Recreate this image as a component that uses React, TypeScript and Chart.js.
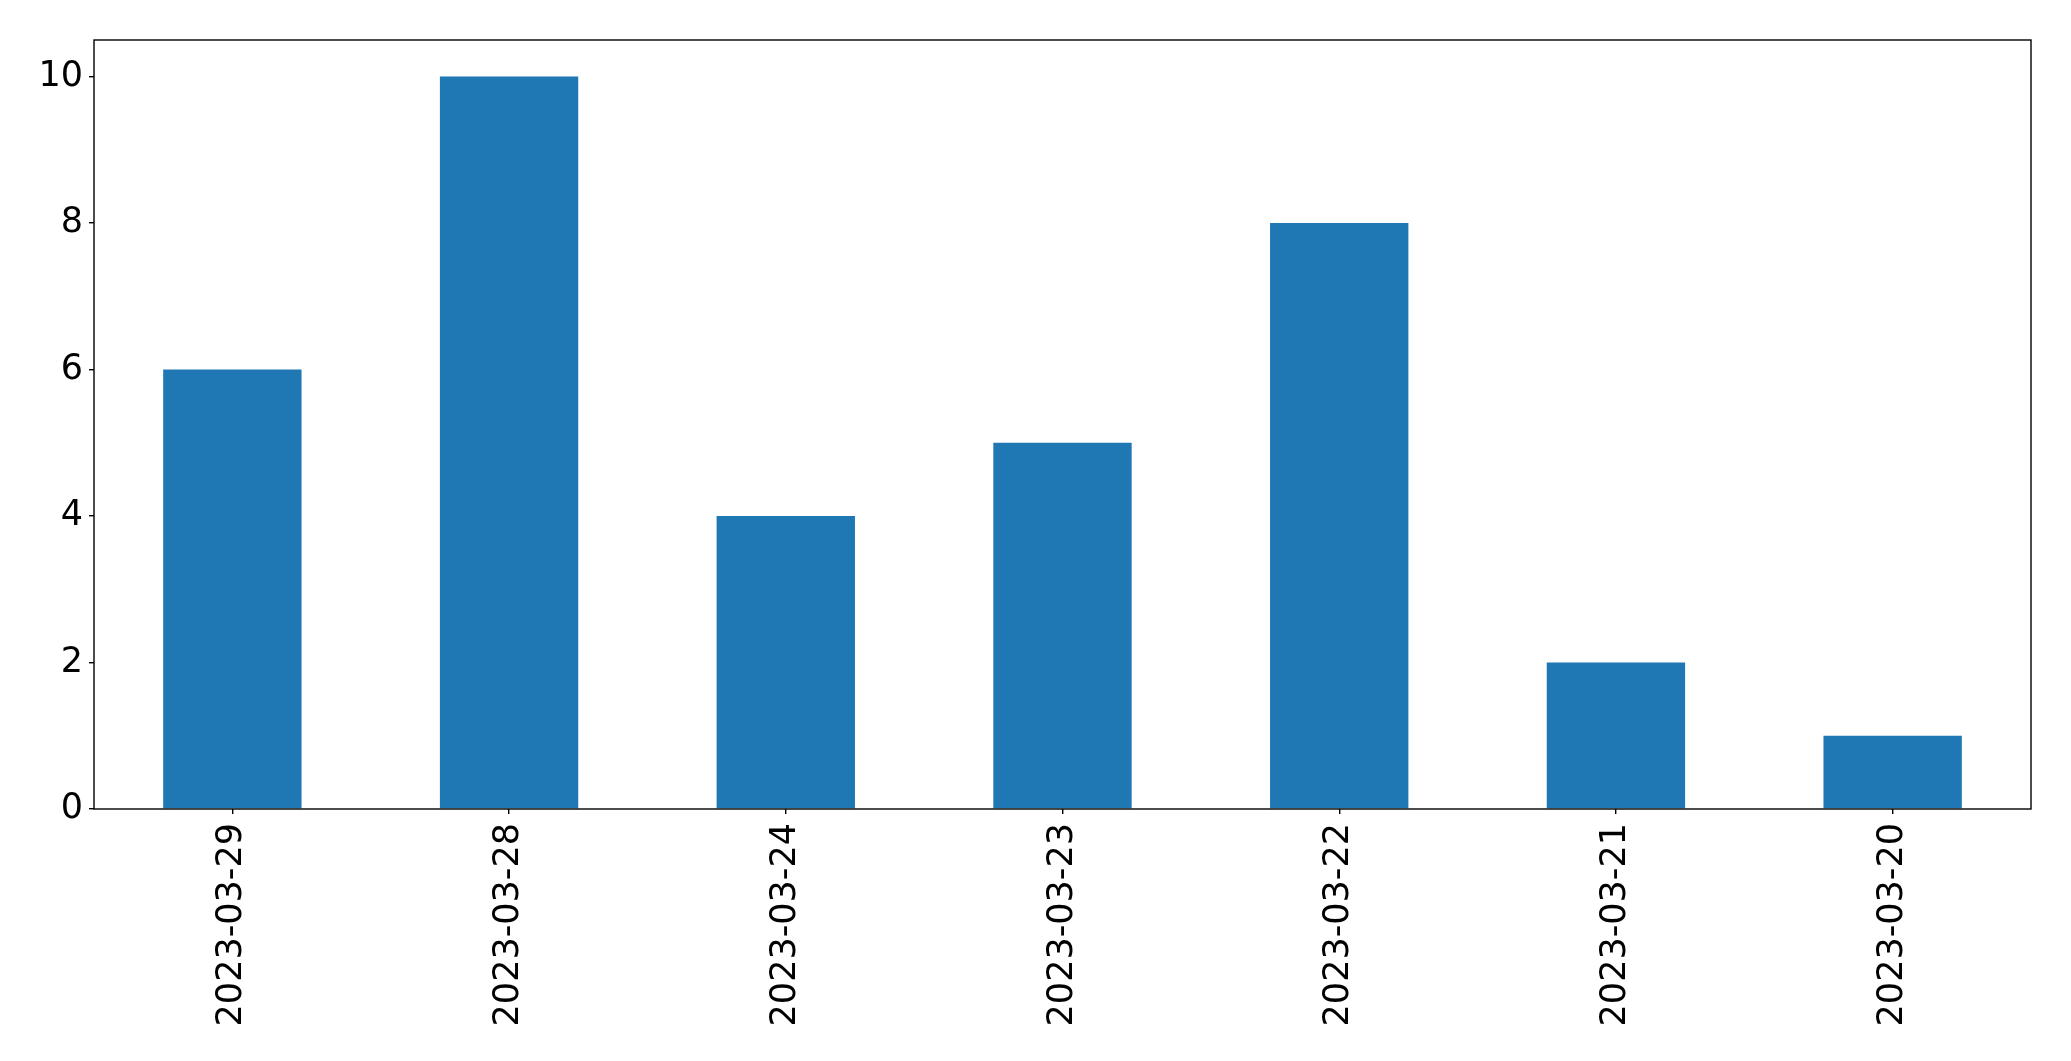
import React, { useEffect, useRef } from "react";
import { Chart, registerables } from "chart.js";

Chart.register(...registerables);

const categories = [
  "2023-03-29",
  "2023-03-28",
  "2023-03-24",
  "2023-03-23",
  "2023-03-22",
  "2023-03-21",
  "2023-03-20",
];
const counts = [6, 10, 4, 5, 8, 2, 1];
const yMin = 0;
const yMax = 10.5;
const yStep = 2;

const W = 2071;
const H = 1061;

const frame = {
  id: "frame",
  afterDraw(chart: any) {
    const { ctx, chartArea } = chart;
    ctx.save();
    ctx.strokeStyle = "#000";
    ctx.lineWidth = 1.4;
    ctx.strokeRect(
      chartArea.left,
      chartArea.top,
      chartArea.right - chartArea.left,
      chartArea.bottom - chartArea.top
    );
    ctx.restore();
  },
};

export default function App() {
  const ref = useRef<HTMLCanvasElement | null>(null);
  useEffect(() => {
    if (!ref.current) return;
    const font = { family: "'DejaVu Sans', sans-serif", size: 35 };
    const chart = new Chart(ref.current, {
      type: "bar",
      data: {
        labels: categories,
        datasets: [
          {
            data: counts,
            backgroundColor: "#1f77b4",
            borderWidth: 0,
            barPercentage: 0.5,
            categoryPercentage: 1.0,
          },
        ],
      },
      options: {
        animation: false,
        responsive: false,
        devicePixelRatio: 1,
        layout: { padding: { top: 40, right: 40, left: 0, bottom: 0 } },
        plugins: {
          legend: { display: false },
          tooltip: { enabled: false },
        },
        scales: {
          x: {
            offset: true,
            grid: {
              display: true,
              offset: false,
              drawOnChartArea: false,
              drawTicks: true,
              tickLength: 5,
              color: "#000",
              lineWidth: 1.4,
            },
            border: { display: false },
            ticks: {
              color: "#000",
              font,
              minRotation: 90,
              maxRotation: 90,
              padding: 9,
              autoSkip: false,
            },
            afterFit(scale: any) {
              scale.height = 252;
            },
          },
          y: {
            min: yMin,
            max: yMax,
            grid: {
              display: true,
              drawOnChartArea: false,
              drawTicks: true,
              tickLength: 5,
              color: "#000",
              lineWidth: 1.4,
            },
            border: { display: false },
            ticks: {
              color: "#000",
              font,
              stepSize: yStep,
              includeBounds: false,
              padding: 6,
            },
            afterFit(scale: any) {
              scale.width = 94;
            },
          },
        },
      },
      plugins: [frame],
    });
    return () => chart.destroy();
  }, []);
  return (
    <canvas
      ref={ref}
      width={W}
      height={H}
      style={{ position: "fixed", left: 0, top: 0, width: W, height: H, background: "#fff" }}
    />
  );
}
